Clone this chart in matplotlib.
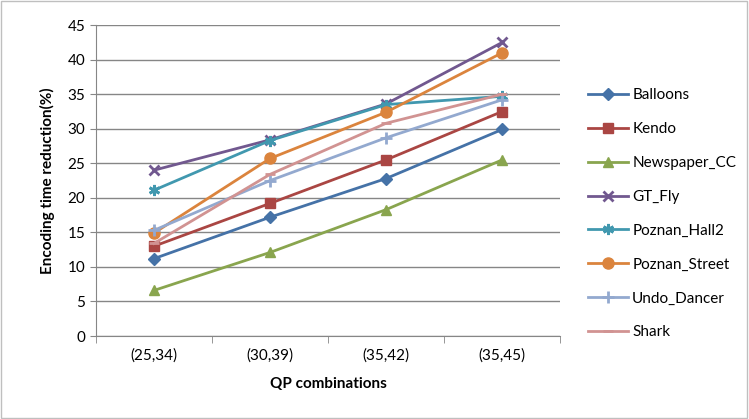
import matplotlib
matplotlib.use('Agg')
import matplotlib.pyplot as plt
from matplotlib.patches import Rectangle

categories = ['(25,34)', '(30,39)', '(35,42)', '(35,45)']
balloons = [11.2, 17.2, 22.8, 29.9]
kendo = [13.0, 19.2, 25.5, 32.5]
newspaper = [6.6, 12.1, 18.3, 25.5]
gt_fly = [24.0, 28.4, 33.6, 42.5]
poznan_hall2 = [21.1, 28.3, 33.5, 34.7]
poznan_street = [14.9, 25.7, 32.4, 41.0]
undo_dancer = [15.3, 22.5, 28.7, 34.2]
shark = [13.4, 23.4, 30.8, 35.0]

series = [
    ('Balloons', balloons, '#4572A7', 'D', 6),
    ('Kendo', kendo, '#AA4643', 's', 7),
    ('Newspaper_CC', newspaper, '#89A54E', '^', 7),
    ('GT_Fly', gt_fly, '#71588F', 'x', 7),
    ('Poznan_Hall2', poznan_hall2, '#4198AF', (6, 2, 0), 8),
    ('Poznan_Street', poznan_street, '#DB843D', 'o', 8),
    ('Undo_Dancer', undo_dancer, '#93A9CF', '+', 8),
    ('Shark', shark, '#D19392', '_', 7),
]

plt.rcParams['font.family'] = ['Lato', 'DejaVu Sans']

fig = plt.figure(figsize=(7.49, 4.19), dpi=100)
fig.patches.append(Rectangle((0.002, 0.003), 0.995, 0.994, transform=fig.transFigure,
                             fill=False, edgecolor='#BFBFBF', linewidth=1))
ax = fig.add_axes([0.128, 0.198, 0.62, 0.742])

x = list(range(len(categories)))
for name, vals, col, mk, ms in series:
    ax.plot(x, vals, color=col, marker=mk, markersize=ms, linewidth=2,
            markeredgewidth=2 if mk in ('x', '+', '_', (6, 2, 0)) else 1,
            markeredgecolor=col, markerfacecolor=col, label=name)

ax.set_xlim(-0.5, 3.5)
ax.set_ylim(0, 45)
ax.set_yticks(range(0, 46, 5))
ax.set_xticks(x)
ax.set_xticklabels(categories)
ax.set_xticks([-0.5, 0.5, 1.5, 2.5, 3.5], minor=True)
ax.tick_params(axis='x', which='major', length=0, labelsize=11, pad=9)
ax.tick_params(axis='x', which='minor', length=5, color='#868686')
ax.tick_params(axis='y', length=4, color='#868686', labelsize=11)
ax.grid(axis='y', color='#868686', linewidth=1)
ax.set_axisbelow(True)
for s in ['top', 'right']:
    ax.spines[s].set_visible(False)
for s in ['left', 'bottom']:
    ax.spines[s].set_color('#868686')
ax.set_xlabel('QP combinations', fontsize=11, fontweight='bold', labelpad=10)
ax.set_ylabel('Encoding time reduction(%)', fontsize=11, fontweight='bold', labelpad=9)

ax.legend(loc='center left', bbox_to_anchor=(1.03, 0.393), frameon=False,
          fontsize=11, labelspacing=1.3, handlelength=2.6, handletextpad=0.3)

fig.savefig('out.png', dpi=100)
